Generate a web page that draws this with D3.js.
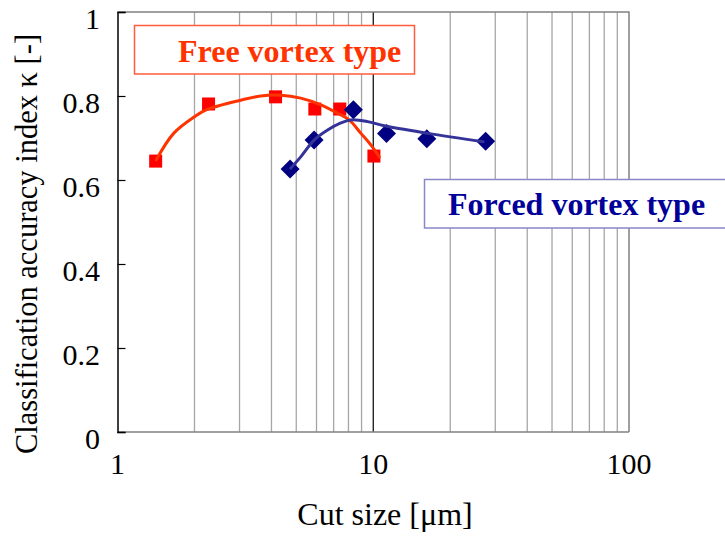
<!DOCTYPE html>
<html>
<head>
<meta charset="utf-8">
<script src="https://cdn.jsdelivr.net/npm/d3@7"></script>
<style>
  html, body { margin: 0; padding: 0; background: #fff; }
  svg { display: block; }
</style>
</head>
<body>
<svg id="chart" width="725" height="538"></svg>
<script>
// Measured points: cut size [µm] and classification accuracy index κ
const freeX = [1.41, 2.27, 4.15, 5.91, 7.40, 10.06];
const freeY = [0.645, 0.781, 0.798, 0.769, 0.769, 0.657];
const forcedX = [4.73, 5.87, 8.36, 11.27, 16.2, 27.5];
const forcedY = [0.626, 0.695, 0.767, 0.711, 0.698, 0.692];

// Smoothed trend curves through the measurements
const freeCurveX = [1.418, 1.658, 2.017, 2.242, 3.028, 3.627, 4.345, 5.206, 6.237, 7.252, 8.05, 8.95, 9.80, 10.56];
const freeCurveY = [0.648, 0.711, 0.752, 0.768, 0.790, 0.800, 0.802, 0.795, 0.779, 0.759, 0.743, 0.711, 0.683, 0.655];
const forcedCurveX = [4.756, 5.206, 5.87, 6.63, 7.47, 8.18, 9.51, 11.04, 16.34, 26.9];
const forcedCurveY = [0.628, 0.655, 0.695, 0.719, 0.736, 0.743, 0.739, 0.729, 0.711, 0.691];

const yTicks = [0, 0.2, 0.4, 0.6, 0.8, 1];
const yTickLabels = ["0", "0.2", "0.4", "0.6", "0.8", "1"];
const xTicks = [1, 10, 100];
const xTickLabels = ["1", "10", "100"];
const xMinor = [2, 3, 4, 5, 6, 7, 8, 9, 20, 30, 40, 50, 60, 70, 80, 90];

const seriesNames = ["Free vortex type", "Forced vortex type"];

const FONT = "Liberation Serif";
const svg = d3.select("#chart");
const plotLeft = 117.5, plotRight = 629, plotTop = 12, plotBottom = 432;

const x = d3.scaleLog().domain([1, 100]).range([plotLeft, plotRight]);
const y = d3.scaleLinear().domain([0, 1]).range([plotBottom, plotTop]);

// Grid
const grid = svg.append("g");
grid.selectAll("line.minor").data(xMinor).join("line")
  .attr("x1", d => x(d)).attr("x2", d => x(d))
  .attr("y1", plotTop).attr("y2", plotBottom)
  .attr("stroke", "#a6a6a6").attr("stroke-width", 1.3);
grid.append("line")
  .attr("x1", x(10)).attr("x2", x(10)).attr("y1", plotTop).attr("y2", plotBottom)
  .attr("stroke", "#000").attr("stroke-width", 1.2);
// Frame: top and right in gray
grid.append("path")
  .attr("d", `M${plotLeft},${plotTop}H${x(100)}V${plotBottom}`)
  .attr("fill", "none").attr("stroke", "#808080").attr("stroke-width", 1.5);
// Bottom axis line
grid.append("line")
  .attr("x1", plotLeft).attr("x2", x(100)).attr("y1", plotBottom).attr("y2", plotBottom)
  .attr("stroke", "#808080").attr("stroke-width", 1.5);

// Y axis with inward ticks
const yAxis = d3.axisRight(y).tickValues(yTicks).tickSize(8).tickFormat("");
const yg = svg.append("g").attr("transform", `translate(${plotLeft},0)`).call(yAxis);
yg.select(".domain").attr("stroke", "#000").attr("stroke-width", 1.5);
yg.selectAll(".tick line").attr("stroke", "#000").attr("stroke-width", 1.2);

svg.append("g").selectAll("text").data(yTicks).join("text")
  .attr("x", 100).attr("y", d => y(d) + 17)
  .attr("text-anchor", "end").attr("font-family", FONT).attr("font-size", 30).attr("fill", "#000")
  .text((d, i) => yTickLabels[i]);

svg.append("g").selectAll("text").data(xTicks).join("text")
  .attr("x", d => x(d)).attr("y", 474)
  .attr("text-anchor", "middle").attr("font-family", FONT).attr("font-size", 30).attr("fill", "#000")
  .text((d, i) => xTickLabels[i]);

// Axis titles
svg.append("text")
  .attr("x", 385).attr("y", 525)
  .attr("text-anchor", "middle").attr("font-family", FONT).attr("font-size", 32).attr("fill", "#000")
  .text("Cut size [\u03bcm]");
svg.append("text")
  .attr("transform", "translate(37,244) rotate(-90)")
  .attr("text-anchor", "middle").attr("font-family", FONT).attr("font-size", 30.5).attr("fill", "#000")
  .text("Classification accuracy index \u03ba [-]");

// Legend boxes
svg.append("rect")
  .attr("x", 134.5).attr("y", 25.5).attr("width", 280).attr("height", 48.5)
  .attr("fill", "#fff").attr("stroke", "#ff5a3c").attr("stroke-width", 1.5);
svg.append("text")
  .attr("x", 178).attr("y", 62)
  .attr("font-family", FONT).attr("font-size", 32).attr("font-weight", "bold").attr("fill", "#ff3300")
  .text(seriesNames[0]);

svg.append("rect")
  .attr("x", 424.5).attr("y", 179.5).attr("width", 320).attr("height", 48.5)
  .attr("fill", "#fff").attr("stroke", "#8888c8").attr("stroke-width", 1.5);
svg.append("text")
  .attr("x", 448).attr("y", 215)
  .attr("font-family", FONT).attr("font-size", 32).attr("font-weight", "bold").attr("fill", "#000099")
  .text(seriesNames[1]);

// Markers
const sq = 13;
svg.append("g").selectAll("rect").data(freeX.map((v, i) => [v, freeY[i]])).join("rect")
  .attr("x", d => x(d[0]) - sq / 2).attr("y", d => y(d[1]) - sq / 2)
  .attr("width", sq).attr("height", sq)
  .attr("fill", "#ff0000");

const dm = 9.5;
svg.append("g").selectAll("path").data(forcedX.map((v, i) => [v, forcedY[i]])).join("path")
  .attr("d", d => {
    const cx = x(d[0]), cy = y(d[1]);
    return `M${cx},${cy - dm}L${cx + dm},${cy}L${cx},${cy + dm}L${cx - dm},${cy}Z`;
  })
  .attr("fill", "#000080");

// Trend curves
const line = d3.line().x(d => x(d[0])).y(d => y(d[1])).curve(d3.curveCatmullRom.alpha(0.5));
svg.append("path")
  .datum(freeCurveX.map((v, i) => [v, freeCurveY[i]]))
  .attr("d", line).attr("fill", "none")
  .attr("stroke", "#ff3300").attr("stroke-width", 3).attr("stroke-linecap", "round");
svg.append("path")
  .datum(forcedCurveX.map((v, i) => [v, forcedCurveY[i]]))
  .attr("d", line).attr("fill", "none")
  .attr("stroke", "#333399").attr("stroke-width", 3).attr("stroke-linecap", "round");
</script>
</body>
</html>
